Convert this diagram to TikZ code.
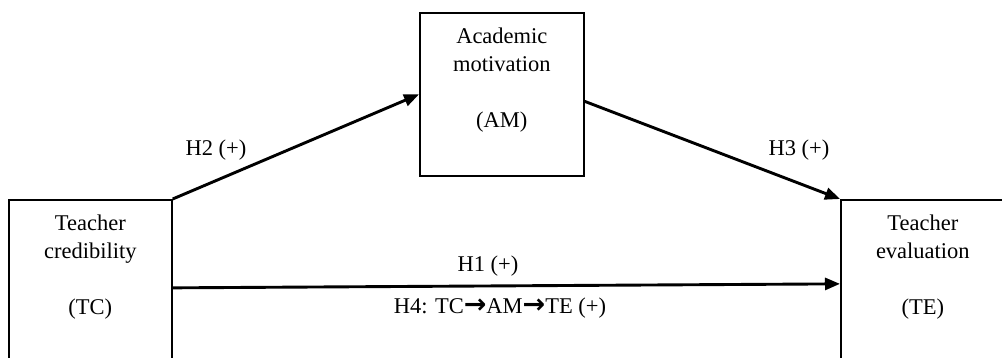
\documentclass[tikz,border=0pt]{standalone}
\usepackage{fontspec}
\setmainfont{Liberation Serif}
\newfontfamily\arrowfont{DejaVu Sans}
\usetikzlibrary{arrows.meta}
\newcommand{\bigarr}{{\arrowfont\bfseries\fontsize{27}{28}\selectfont →}}
\begin{document}
\begin{tikzpicture}[x=1pt,y=-1pt,
  box/.style={draw=black, line width=1.7pt, rectangle, anchor=north west, inner sep=0pt},
  txt/.style={align=center, inner sep=0pt, anchor=north, font=\fontsize{22.5}{28}\selectfont},
  lbl/.style={inner sep=0pt, anchor=base, font=\fontsize{22.5}{28}\selectfont},
  conn/.style={line width=2.9pt, -{Triangle[length=15pt,width=12pt]}}
]
\useasboundingbox (0,0) rectangle (1002,357);
% boxes
\node[box, minimum width=163pt, minimum height=173pt] (tc) at (8,199) {};
\node[box, minimum width=164pt, minimum height=163pt] (am) at (419,12) {};
\node[box, minimum width=164pt, minimum height=173pt] (te) at (840,199) {};
% box texts
\node[txt] (tct) at ([yshift=-16pt]tc.north) {Teacher\\credibility\\[28pt](TC)};
\node[txt] (amt) at ([yshift=-16pt]am.north) {Academic\\motivation\\[28pt](AM)};
\node[txt] (tet) at ([yshift=-16pt]te.north) {Teacher\\evaluation\\[28pt](TE)};
% connectors
\draw[conn] (tc.north east) -- (am.west);
\draw[conn] ([yshift=-7pt]am.east) -- (te.north west);
\draw[conn] ([yshift=-1.5pt]tc.east) -- ([yshift=2.5pt]te.west);
% labels
\node[lbl] (h2) at (216,155) {H2 (+)};
\node[lbl] (h3) at (799,155) {H3 (+)};
\node[lbl] (h1) at (488,271) {H1 (+)};
\node[lbl] (h4) at (500,313) {H4: TC\bigarr AM\bigarr TE (+)};
\end{tikzpicture}
\end{document}
